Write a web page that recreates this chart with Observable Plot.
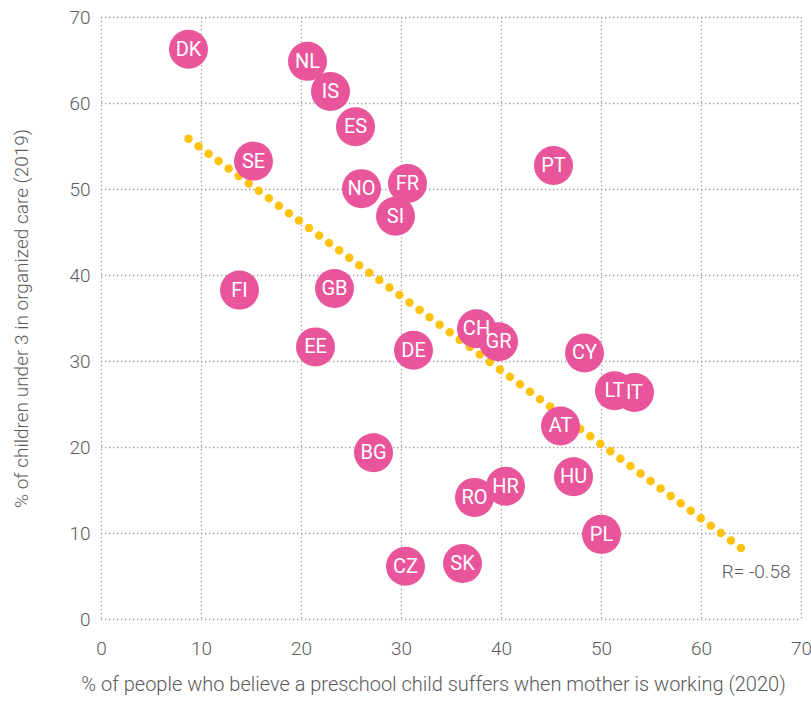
<!DOCTYPE html>
<html>
<head>
<meta charset="utf-8">
<script src="https://cdn.jsdelivr.net/npm/d3@7"></script>
<script src="https://cdn.jsdelivr.net/npm/@observablehq/plot@0.6"></script>
<style>
  html, body { margin: 0; padding: 0; background: #fff; }
  #chart svg { display: block; }
</style>
</head>
<body>
<div id="chart"></div>
<script>
// Data
const countries = ["DK","NL","IS","ES","SE","PT","NO","FR","SI","FI","GB","CH","GR","EE","DE","CY","LT","IT","AT","BG","HU","RO","HR","PL","CZ","SK"];
const believeSuffers = [8.7,20.6,22.9,25.4,15.2,45.2,26.0,30.6,29.4,13.8,23.3,37.5,39.7,21.4,31.2,48.3,51.3,53.3,45.9,27.2,47.2,37.3,40.4,50.0,30.4,36.1];
const childcare = [66.3,64.9,61.4,57.3,53.3,52.8,50.1,50.7,46.9,38.3,38.5,33.8,32.3,31.7,31.3,31.0,26.6,26.4,22.5,19.4,16.6,14.2,15.5,9.9,6.2,6.5];

const trendX = [8.7, 64.2];
const trendY = [55.9, 8.1];

const xTicks = [0,10,20,30,40,50,60,70];
const yTicks = [0,10,20,30,40,50,60,70];

const xLabel = "% of people who believe a preschool child suffers when mother is working (2020)";
const yLabel = "% of children under 3 in organized care (2019)";
const rLabel = "R= -0.58";

const points = countries.map((c, i) => ({country: c, x: believeSuffers[i], y: childcare[i]}));
const trend = trendX.map((x, i) => ({x, y: trendY[i]}));

const pink = "#E9559A";
const yellow = "#FFC20E";
const gray = "#5a5a5a";
const font = "Roboto, 'Liberation Sans', sans-serif";

const chart = Plot.plot({
  width: 811,
  height: 702,
  marginLeft: 101,
  marginRight: 10,
  marginTop: 17,
  marginBottom: 83,
  style: {fontFamily: font, fontSize: "20px", color: gray, background: "#fff"},
  x: {domain: [0, 70], ticks: xTicks},
  y: {domain: [0, 70], ticks: yTicks},
  marks: [
    Plot.gridX(xTicks, {stroke: "#999", strokeOpacity: 1, strokeWidth: 1.3, strokeDasharray: "1.3,2.7"}),
    Plot.gridY(yTicks, {stroke: "#999", strokeOpacity: 1, strokeWidth: 1.3, strokeDasharray: "1.3,2.7"}),
    Plot.axisX(xTicks, {tickSize: 0, tickPadding: 22, label: null, fontSize: 19, fontWeight: 300, fill: gray}),
    Plot.axisY(yTicks, {tickSize: 0, tickPadding: 11, label: yLabel, labelAnchor: "center", labelArrow: "none", labelOffset: 87, fontSize: 19, fontWeight: 300, fill: gray}),
    Plot.line(trend, {x: "x", y: "y", stroke: yellow, strokeWidth: 8.5, strokeLinecap: "round", strokeDasharray: "0,12.5"}),
    Plot.dot(points, {x: "x", y: "y", r: 19.5, fill: pink, stroke: "none"}),
    Plot.text(points, {x: "x", y: "y", text: "country", fill: "#fff", fontSize: 20, fontWeight: 400}),
    Plot.text([rLabel], {frameAnchor: "bottom-right", text: d => d, dx: -11, dy: -42, textAnchor: "end", fill: gray, fontSize: 19, fontWeight: 300}),
    Plot.text([xLabel], {frameAnchor: "bottom", text: d => d, dx: -18, dy: 71, fill: gray, fontSize: 20, fontWeight: 300})
  ]
});
document.getElementById("chart").appendChild(chart);
</script>
</body>
</html>
